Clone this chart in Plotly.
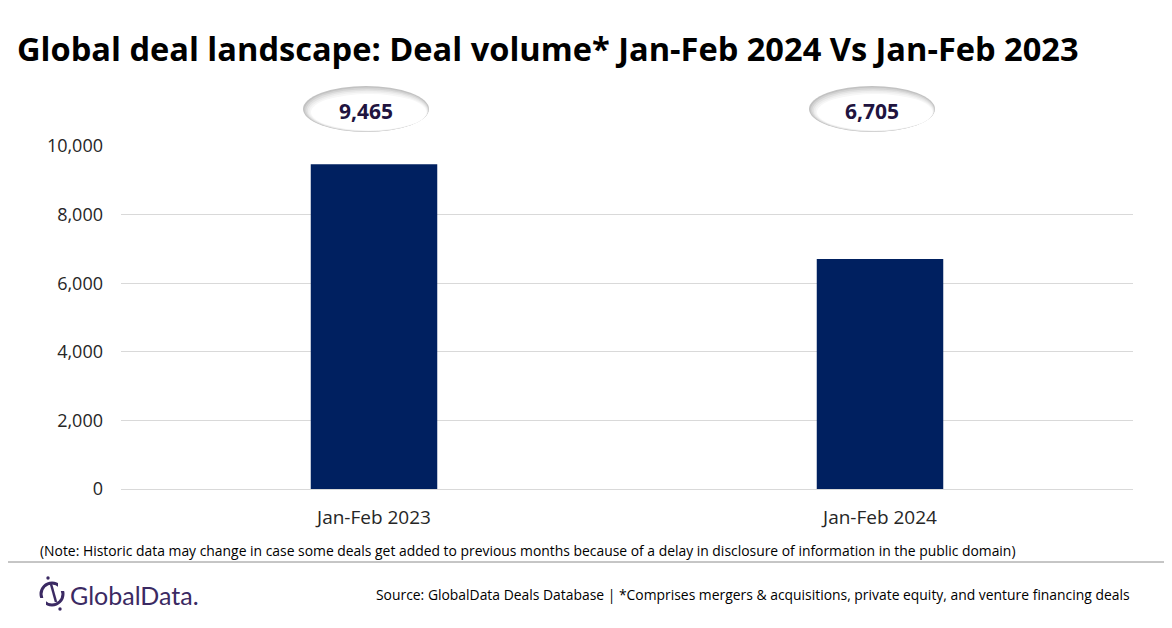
import plotly.graph_objects as go

periods = ["Jan-Feb 2023", "Jan-Feb 2024"]
deal_volume = [9465, 6705]
y_ticks = [0, 2000, 4000, 6000, 8000, 10000]

title_text = "<b>Global deal landscape: Deal volume* Jan-Feb 2024 Vs Jan-Feb 2023</b>"
note_text = ("(Note: Historic data may change in case some deals get added to previous months "
             "because of a delay in disclosure of information in the public domain)")
source_text = ("Source: GlobalData Deals Database | *Comprises mergers & acquisitions, "
               "private equity, and venture financing deals")

# the page body adds an 8px margin, so the figure is shrunk by that much
OFF = 8
W, H = 1172 - OFF, 628 - OFF
L, R, T, B = 121 - OFF, 39, 146 - OFF, 139
PW, PH = W - L - R, H - T - B
CAT_PX = PW / len(periods)


def px(x):
    # window pixel -> paper x
    return (x - OFF - L) / PW


def py(y):
    # window pixel -> paper y
    return (H - B - (y - OFF)) / PH


fig = go.Figure()
fig.add_trace(go.Bar(x=periods, y=deal_volume, width=0.25,
                     marker=dict(color="#002060", line=dict(width=0)),
                     hoverinfo="skip"))

shapes = []
annotations = []

# oval call-outs with value labels (shaded rim top-left)
rim = ["#c2c2c2", "#d3d3d3", "#e2e2e2", "#eeeeee", "#f7f7f7", "#ffffff"]
for i, v in enumerate(deal_volume):
    cx = i - 8 / CAT_PX
    hw = 63 / CAT_PX
    top, bot = 86, 132
    for k, col in enumerate(rim):
        d = 1.6 * k
        shapes.append(dict(type="circle", xref="x", yref="paper",
                           x0=cx - hw + d / CAT_PX, x1=cx + hw - 0.3 * d / CAT_PX,
                           y0=py(bot - 0.2 * d), y1=py(top + d),
                           fillcolor=col, line=dict(width=0), layer="above"))
    annotations.append(dict(x=cx, y=py(111), xref="x", yref="paper",
                            xanchor="center", yanchor="middle",
                            text="<b>{:,}</b>".format(v), showarrow=False,
                            font=dict(family="Open Sans", size=21, color="#21143f")))

# separator line
shapes.append(dict(type="line", xref="paper", yref="paper",
                   x0=px(0), x1=px(1172), y0=py(562), y1=py(562),
                   line=dict(color="#8c8c8c", width=1)))

# logo icon
logo_col = "#3b2a63"
shapes.append(dict(type="circle", xref="paper", yref="paper",
                   x0=px(41), x1=px(63), y0=py(605), y1=py(583),
                   line=dict(color=logo_col, width=3)))
shapes.append(dict(type="rect", xref="paper", yref="paper",
                   x0=px(58), x1=px(66), y0=py(591), y1=py(578),
                   fillcolor="white", line=dict(width=0)))
shapes.append(dict(type="rect", xref="paper", yref="paper",
                   x0=px(38), x1=px(46), y0=py(610), y1=py(598),
                   fillcolor="white", line=dict(width=0)))
shapes.append(dict(type="line", xref="paper", yref="paper",
                   x0=px(51), x1=px(56), y0=py(584), y1=py(602),
                   line=dict(color=logo_col, width=2.5)))
for (dx, dy) in [(48, 578), (60, 609)]:
    shapes.append(dict(type="circle", xref="paper", yref="paper",
                       x0=px(dx - 1.7), x1=px(dx + 1.7), y0=py(dy + 1.7), y1=py(dy - 1.7),
                       fillcolor=logo_col, line=dict(width=0)))

annotations.append(dict(x=px(68), y=py(595), xref="paper", yref="paper",
                        xanchor="left", yanchor="middle", showarrow=False,
                        text="GlobalData.",
                        font=dict(family="Lato", size=25, color=logo_col)))
annotations.append(dict(x=px(38), y=py(550), xref="paper", yref="paper",
                        xanchor="left", yanchor="middle", showarrow=False,
                        text=note_text,
                        font=dict(family="Open Sans", size=13.9, color="#000000")))
annotations.append(dict(x=px(1132), y=py(594), xref="paper", yref="paper",
                        xanchor="right", yanchor="middle", showarrow=False,
                        text=source_text,
                        font=dict(family="Open Sans", size=13.9, color="#000000")))

fig.update_layout(
    width=W, height=H,
    margin=dict(l=L, r=R, t=T, b=B),
    paper_bgcolor="white", plot_bgcolor="white",
    showlegend=False,
    title=dict(text=title_text, x=(18 - OFF - 1) / W, xanchor="left",
               y=1 - (50 - OFF) / H, yanchor="middle",
               font=dict(family="Open Sans", size=32.6, color="#000000")),
    xaxis=dict(showline=True, linecolor="#d9d9d9", linewidth=1, showgrid=False,
               ticks="", ticklabelstandoff=11,
               tickfont=dict(family="Open Sans", size=19, color="#262626")),
    yaxis=dict(range=[0, 10000], tickvals=y_ticks, tickformat=",",
               showgrid=True, gridcolor="#d9d9d9", gridwidth=1, zeroline=False,
               showline=False, ticks="", ticklabelstandoff=17,
               tickfont=dict(family="Open Sans", size=18, color="#262626")),
    shapes=shapes,
    annotations=annotations,
)

fig.write_html("out.html")
